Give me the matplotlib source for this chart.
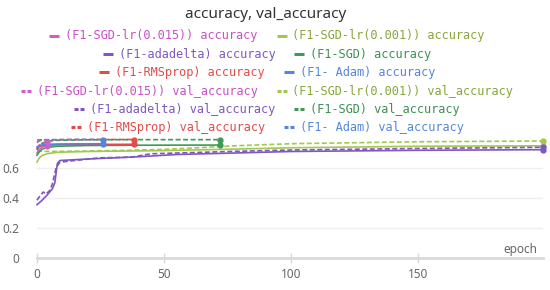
import matplotlib

matplotlib.use("Agg")
import matplotlib.pyplot as plt
from matplotlib.lines import Line2D


# 数据：每个优化器的 epoch、训练精度、验证精度
names = ["F1-SGD-lr(0.015)", "F1-SGD-lr(0.001)", "F1-adadelta", "F1-SGD", "F1-RMSprop", "F1- Adam"]
colors = ["#d35bd0", "#a2c94e", "#7e57c2", "#3f9a55", "#e14b4b", "#5387dd"]
text_colors = ["#c94fc6", "#86a63c", "#7e57c2", "#3d8f52", "#e14b4b", "#5387dd"]

lr015_ep = [0, 1, 2, 4]
lr015_acc = [0.70, 0.725, 0.74, 0.75]
lr015_val = [0.735, 0.755, 0.765, 0.772]

lr001_ep = [0, 1, 2, 4, 8, 20, 35, 50, 61, 78, 100, 150, 199]
lr001_acc = [0.64, 0.67, 0.683, 0.695, 0.705, 0.71, 0.713, 0.716, 0.72, 0.726, 0.735, 0.745, 0.748]
lr001_val = [0.715, 0.712, 0.711, 0.711, 0.711, 0.713, 0.718, 0.724, 0.733, 0.748, 0.762, 0.775, 0.78]

adadelta_ep = [0, 2, 4, 6, 7, 8, 9, 20, 40, 55, 78, 100, 150, 199]
adadelta_acc = [0.355, 0.385, 0.42, 0.46, 0.50, 0.63, 0.65, 0.66, 0.675, 0.69, 0.70, 0.71, 0.718, 0.722]
adadelta_val_ep = [0, 1, 2.5, 3.5, 5, 6, 7.5, 9, 12, 25, 37, 45, 78, 100, 150, 199]
adadelta_val = [0.385, 0.41, 0.44, 0.425, 0.45, 0.49, 0.60, 0.638, 0.645, 0.668, 0.672, 0.695, 0.711, 0.72, 0.73, 0.738]

sgd_ep = [0, 1, 2, 4, 8, 20, 40, 72]
sgd_acc = [0.685, 0.71, 0.725, 0.738, 0.745, 0.75, 0.752, 0.753]
sgd_val = [0.72, 0.75, 0.765, 0.778, 0.785, 0.788, 0.789, 0.789]

rms_ep = [0, 1, 3, 10, 20, 38]
rms_acc = [0.73, 0.745, 0.752, 0.756, 0.757, 0.758]
rms_val = [0.77, 0.782, 0.787, 0.789, 0.79, 0.79]

adam_ep = [0, 1, 3, 8, 15, 26]
adam_acc = [0.74, 0.75, 0.757, 0.76, 0.761, 0.762]
adam_val = [0.786, 0.788, 0.789, 0.789, 0.79, 0.79]

x_ticks = [0, 50, 100, 150]
y_ticks = [0, 0.2, 0.4, 0.6]
y_tick_labels = ["0", "0.2", "0.4", "0.6"]

W, H = 550, 290


def fx(px):
    return px / W


def fy(py):
    return 1 - py / H


fig = plt.figure(figsize=(W / 100, H / 100), dpi=100)
ax = fig.add_axes([fx(37), 32 / H, 505.5 / W, 121.5 / H])

series = [
    (1, lr001_ep, lr001_acc, lr001_ep, lr001_val),
    (2, adadelta_ep, adadelta_acc, adadelta_val_ep, adadelta_val),
    (0, lr015_ep, lr015_acc, lr015_ep, lr015_val),
    (3, sgd_ep, sgd_acc, sgd_ep, sgd_val),
    (4, rms_ep, rms_acc, rms_ep, rms_val),
    (5, adam_ep, adam_acc, adam_ep, adam_val),
]

for idx, ep, acc, vep, val in series:
    c = colors[idx]
    ax.plot(ep, acc, color=c, lw=1.2, clip_on=False, zorder=3)
    ax.plot(vep, val, color=c, lw=1.2, ls=(0, (3, 1.5)), clip_on=False, zorder=3)
    ax.plot([ep[-1]], [acc[-1]], "o", ms=3.5, color=c, clip_on=False, zorder=4)
    ax.plot([vep[-1]], [val[-1]], "o", ms=3.5, color=c, clip_on=False, zorder=4)

ax.set_xlim(0, 199)
ax.set_ylim(0, 0.81)
ax.set_xticks(x_ticks)
ax.set_xticklabels([str(t) for t in x_ticks])
ax.set_yticks(y_ticks)
ax.set_yticklabels(y_tick_labels)
for s in ["top", "right", "left"]:
    ax.spines[s].set_visible(False)
ax.spines["bottom"].set_color("#d9d9d9")
ax.spines["bottom"].set_linewidth(2)
ax.tick_params(axis="x", direction="inout", length=7, width=1, color="#d9d9d9",
               labelcolor="#666666", labelsize=8.5, pad=4)
ax.tick_params(axis="y", length=0, labelcolor="#666666", labelsize=8.5, pad=13)
for lab in ax.get_xticklabels() + ax.get_yticklabels():
    lab.set_family("Noto Sans")
ax.yaxis.grid(True, color="#efefef", lw=1)
ax.set_axisbelow(True)

fig.text(fx(537), fy(249), "epoch", ha="right", va="center", fontsize=8.5,
         color="#666666", family="Noto Sans")

fig.text(fx(266), fy(15), "accuracy, val_accuracy", ha="center", va="center",
         fontsize=11, color="#333333", family="Noto Sans")

# 图例：每行两个条目，整行居中
rows = [(0, 1), (2, 3), (4, 5)]
row_y = [36, 54.3, 72.3, 91, 109.3, 127]
renderer = fig.canvas.get_renderer()
center = 267

k = 0
for kind in ["accuracy", "val_accuracy"]:
    for a, b in rows:
        y = row_y[k]
        k += 1
        texts = []
        for idx in (a, b):
            t = fig.text(0, fy(y), f"({names[idx]}) {kind}", ha="left", va="center",
                         fontsize=8.6, color=text_colors[idx], family="DejaVu Sans Mono")
            texts.append(t)
        widths = [t.get_window_extent(renderer=renderer).width for t in texts]
        total = 10 + 6 + widths[0] + 19 + 10 + 6 + widths[1]
        x = center - total / 2
        for i, idx in enumerate((a, b)):
            if kind == "accuracy":
                fig.add_artist(Line2D([fx(x), fx(x + 10)], [fy(y), fy(y)],
                                      color=colors[idx], lw=2.2, solid_capstyle="butt"))
            else:
                for dx in (0, 6):
                    fig.add_artist(Line2D([fx(x + dx), fx(x + dx + 4)], [fy(y), fy(y)],
                                          color=colors[idx], lw=2.2, solid_capstyle="butt"))
            texts[i].set_x(fx(x + 16))
            x += 16 + widths[i] + 19

fig.savefig("out.png", dpi=100)
